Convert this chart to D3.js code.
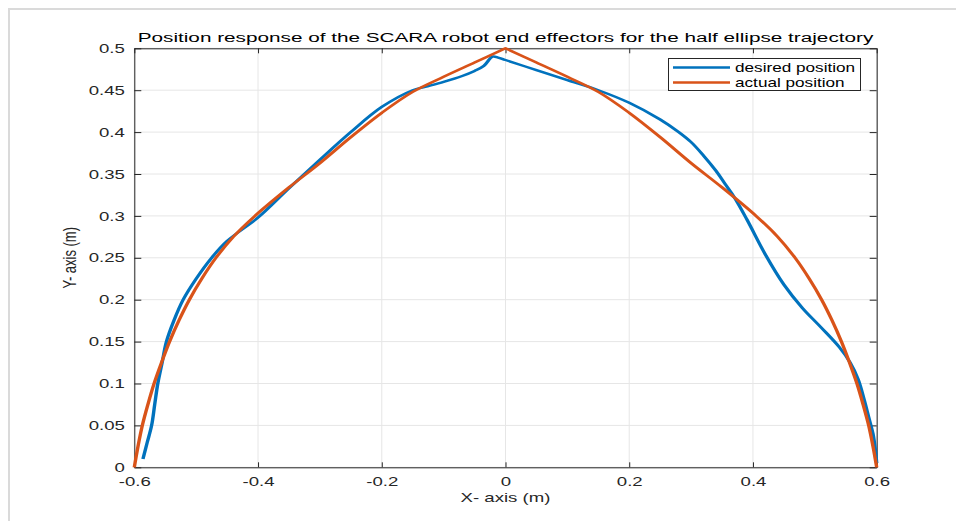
<!DOCTYPE html>
<html>
<head>
<meta charset="utf-8">
<script src="https://cdn.jsdelivr.net/npm/d3@7"></script>
<style>
  html, body { margin: 0; padding: 0; background: #fff; }
  svg { display: block; font-family: "Liberation Sans", Arial, Helvetica, sans-serif; }
</style>
</head>
<body>
<svg id="chart" width="956" height="521"></svg>
<script>
// Desired trajectory (x, y) in metres
const desiredX = [-0.586, -0.579, -0.572, -0.567, -0.562, -0.555, -0.548, -0.536, -0.521, -0.500, -0.475, -0.450,
  -0.400, -0.350, -0.300, -0.250, -0.200, -0.150, -0.130, -0.100, -0.070, -0.050, -0.035, -0.021, -0.012, 0.000,
  0.050, 0.100, 0.150, 0.200, 0.250, 0.280, 0.300, 0.320, 0.340, 0.355, 0.370, 0.390, 0.420, 0.450, 0.480, 0.510,
  0.540, 0.557, 0.570, 0.580, 0.587, 0.594, 0.598, 0.600];
const desiredY = [0.010, 0.030, 0.050, 0.075, 0.100, 0.125, 0.150, 0.175, 0.200, 0.225, 0.250, 0.270,
  0.298, 0.333, 0.367, 0.400, 0.430, 0.450, 0.454, 0.460, 0.467, 0.473, 0.479, 0.490, 0.489, 0.486,
  0.474, 0.462, 0.450, 0.435, 0.415, 0.400, 0.388, 0.372, 0.354, 0.338, 0.322, 0.296, 0.254, 0.218, 0.190, 0.167,
  0.143, 0.125, 0.105, 0.080, 0.060, 0.040, 0.020, 0.005];

// Actual end-effector position (x, y) in metres
const actualX = [-0.600, -0.594, -0.587, -0.578, -0.568, -0.556, -0.543, -0.528, -0.511, -0.491, -0.468, -0.440,
  -0.405, -0.350, -0.300, -0.250, -0.200, -0.150, -0.100, -0.050, 0.000,
  0.050, 0.100, 0.150, 0.200, 0.250, 0.300, 0.350, 0.405, 0.440, 0.468, 0.491, 0.511, 0.528, 0.543, 0.556,
  0.568, 0.578, 0.587, 0.594, 0.600];
const actualY = [0.000, 0.025, 0.050, 0.075, 0.100, 0.125, 0.150, 0.175, 0.200, 0.225, 0.250, 0.275,
  0.300, 0.334, 0.363, 0.394, 0.423, 0.448, 0.466, 0.483, 0.500,
  0.483, 0.466, 0.448, 0.423, 0.394, 0.363, 0.334, 0.300, 0.275, 0.250, 0.225, 0.200, 0.175, 0.150, 0.125,
  0.100, 0.075, 0.050, 0.025, 0.000];

const xTicks = [-0.6, -0.4, -0.2, 0, 0.2, 0.4, 0.6];
const yTicks = [0, 0.05, 0.1, 0.15, 0.2, 0.25, 0.3, 0.35, 0.4, 0.45, 0.5];
const xTickLabels = ["-0.6", "-0.4", "-0.2", "0", "0.2", "0.4", "0.6"];
const yTickLabels = ["0", "0.05", "0.1", "0.15", "0.2", "0.25", "0.3", "0.35", "0.4", "0.45", "0.5"];
const seriesNames = ["desired position", "actual position"];
const seriesColors = ["#0072BD", "#D95319"];

const titleText = "Position response of the SCARA robot end effectors for the half ellipse trajectory";
const xLabel = "X- axis (m)";
const yLabel = "Y- axis (m)";

// The figure is rendered with a wide horizontal aspect: text and strokes are stretched along x.
const SX = 1.43;

const svg = d3.select("#chart");
const m = { left: 134.3, right: 876.7, top: 48.3, bottom: 467.3 };
const axisColor = "#262626";

// Light outer frame
svg.append("path")
  .attr("d", "M9,521 V9 H956")
  .attr("fill", "none")
  .attr("stroke", "#dadada")
  .attr("stroke-width", 2);

const x = d3.scaleLinear().domain([-0.6, 0.6]).range([m.left, m.right]);
const y = d3.scaleLinear().domain([0, 0.5]).range([m.bottom, m.top]);

// Grid
const grid = svg.append("g");
grid.selectAll(".gx").data(xTicks).enter().append("line")
  .attr("x1", d => x(d)).attr("x2", d => x(d))
  .attr("y1", m.top).attr("y2", m.bottom)
  .attr("stroke", "#e6e6e6").attr("stroke-width", 1);
grid.selectAll(".gy").data(yTicks).enter().append("line")
  .attr("x1", m.left).attr("x2", m.right)
  .attr("y1", d => y(d)).attr("y2", d => y(d))
  .attr("stroke", "#e6e6e6").attr("stroke-width", 1);

// Axes (inward ticks, box on all four sides)
function styleAxis(g) {
  g.selectAll("path.domain").attr("stroke", axisColor);
  g.selectAll(".tick line").attr("stroke", axisColor);
  g.selectAll(".tick text").attr("fill", axisColor).attr("font-size", 13)
    .attr("font-family", "'Liberation Sans', Arial, sans-serif");
}

const xAxisB = svg.append("g").attr("transform", `translate(0,${m.bottom})`)
  .call(d3.axisBottom(x).tickValues(xTicks).tickFormat((d, i) => xTickLabels[i])
    .tickSizeInner(-5).tickSizeOuter(0).tickPadding(9));
styleAxis(xAxisB);
xAxisB.selectAll(".tick text").attr("transform", `scale(${SX},1)`);

const xAxisT = svg.append("g").attr("transform", `translate(0,${m.top})`)
  .call(d3.axisTop(x).tickValues(xTicks).tickFormat("").tickSizeInner(-5).tickSizeOuter(0));
styleAxis(xAxisT);

const yAxisL = svg.append("g").attr("transform", `translate(${m.left},0)`)
  .call(d3.axisLeft(y).tickValues(yTicks).tickFormat((d, i) => yTickLabels[i])
    .tickSizeInner(-7).tickSizeOuter(0));
styleAxis(yAxisL);
yAxisL.selectAll(".tick text").attr("x", -9.5 / SX).attr("transform", `scale(${SX},1)`);

const yAxisR = svg.append("g").attr("transform", `translate(${m.right},0)`)
  .call(d3.axisRight(y).tickValues(yTicks).tickFormat("").tickSizeInner(-7).tickSizeOuter(0));
styleAxis(yAxisR);

// Series: drawn in a horizontally scaled group so strokes widen along x like the text
const xs = d3.scaleLinear().domain([-0.6, 0.6]).range([m.left / SX, m.right / SX]);
const line = d3.line().x(d => xs(d[0])).y(d => y(d[1])).curve(d3.curveCatmullRom.alpha(0.5));
const desired = desiredX.map((v, i) => [v, desiredY[i]]);
const actual = actualX.map((v, i) => [v, actualY[i]]);

// The actual path has a sharp apex, so each side is smoothed on its own
const apex = actualX.indexOf(0);
const actualPath = line(actual.slice(0, apex + 1)) + line(actual.slice(apex)).replace(/^M[^CLc]*/, "");

const plot = svg.append("g").attr("transform", `scale(${SX},1)`);
plot.append("path").datum(desired)
  .attr("d", line)
  .attr("fill", "none").attr("stroke", seriesColors[0]).attr("stroke-width", 2.4)
  .attr("stroke-linejoin", "round");
plot.append("path")
  .attr("d", actualPath)
  .attr("fill", "none").attr("stroke", seriesColors[1]).attr("stroke-width", 2.4)
  .attr("stroke-linejoin", "round");

// Stretched text helper
function stretchedText(parent, tx, ty, str, size, anchor, fill, targetWidth) {
  const g = parent.append("g");
  const t = g.append("text")
    .attr("text-anchor", anchor).attr("font-size", size).attr("fill", fill)
    .text(str);
  let s = SX;
  if (targetWidth) s = targetWidth / t.node().getComputedTextLength();
  g.attr("transform", `translate(${tx},${ty}) scale(${s},1)`);
  return g;
}

// Title and axis labels
stretchedText(svg, (m.left + m.right) / 2, 42, titleText, 13.5, "middle", "#000", 736);
stretchedText(svg, (m.left + m.right) / 2, 502, xLabel, 13, "middle", axisColor);
svg.append("text")
  .attr("transform", `translate(76,${(m.top + m.bottom) / 2}) scale(${SX},1) rotate(-90)`)
  .attr("text-anchor", "middle").attr("font-size", 13).attr("fill", axisColor)
  .text(yLabel);

// Legend
const lg = svg.append("g");
lg.append("rect")
  .attr("x", 668.5).attr("y", 58.5).attr("width", 192).attr("height", 32)
  .attr("fill", "#fff").attr("stroke", axisColor).attr("stroke-width", 1);
seriesNames.forEach((name, i) => {
  const ly = 67.5 + i * 15;
  lg.append("line")
    .attr("x1", 673).attr("x2", 730).attr("y1", ly).attr("y2", ly)
    .attr("stroke", seriesColors[i]).attr("stroke-width", 2.4);
  stretchedText(lg, 735, ly + 4.3, name, 12, "start", "#000");
});
</script>
</body>
</html>
